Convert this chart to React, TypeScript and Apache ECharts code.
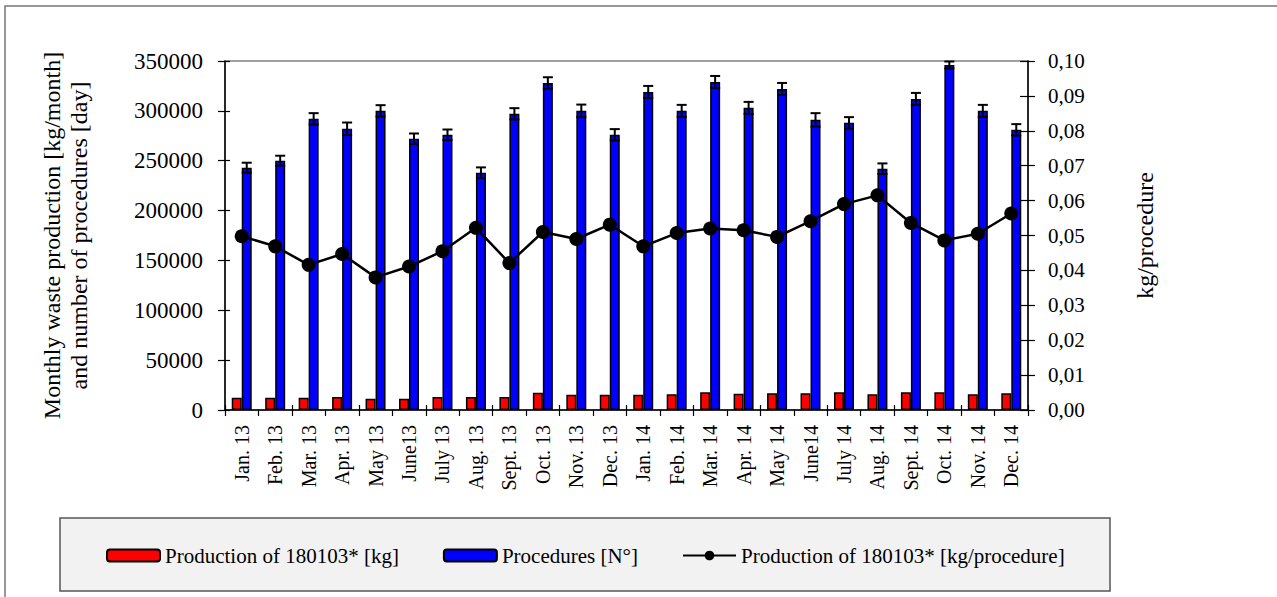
import React, { useEffect, useRef } from "react";
import * as echarts from "echarts";

const categories = [
  "Jan. 13", "Feb. 13", "Mar. 13", "Apr. 13", "May 13", "June13", "July 13", "Aug. 13",
  "Sept. 13", "Oct. 13", "Nov. 13", "Dec. 13", "Jan. 14", "Feb. 14", "Mar. 14", "Apr. 14",
  "May 14", "June14", "July 14", "Aug. 14", "Sept. 14", "Oct. 14", "Nov. 14", "Dec. 14",
];

const productionKg = [
  12400, 12400, 12400, 13100, 11400, 11400, 13100, 13100, 13100, 17400, 15400, 15400,
  15400, 15700, 17800, 16400, 16800, 16800, 17800, 15700, 17800, 17800, 15700, 16800,
];

const procedures = [
  243000, 250000, 292000, 282000, 300000, 272000, 276000, 238000, 297000, 328000, 300000, 276000,
  319000, 300000, 329000, 303000, 322000, 291000, 288000, 242000, 312000, 346000, 300000, 281000,
];

const proceduresError = [
  5000, 5000, 5700, 6300, 5700, 5300, 5300, 5300, 5700, 5700, 6300, 5700,
  6000, 6000, 6000, 6000, 6000, 6700, 5700, 5300, 6000, 3500, 6000, 5700,
];

const kgPerProcedure = [
  0.0498, 0.0469, 0.0416, 0.0447, 0.038, 0.0411, 0.0455, 0.0522, 0.0421, 0.051, 0.049, 0.0531,
  0.0469, 0.0507, 0.052, 0.0515, 0.0496, 0.0541, 0.059, 0.0615, 0.0536, 0.0486, 0.0505, 0.0563,
];

const leftTicks = { min: 0, max: 350000, interval: 50000 };
const rightTicks = { min: 0, max: 0.1, interval: 0.01 };

const FONT = "Liberation Serif";

export default function App() {
  const ref = useRef<HTMLDivElement>(null);

  useEffect(() => {
    document.body.style.margin = "0";
    if (!ref.current) return;
    const chart = echarts.init(ref.current, null, { renderer: "svg" });

    const errData = procedures.map((v, i) => [i, v, proceduresError[i]]);

    const option: any = {
      animation: false,
      backgroundColor: "#ffffff",
      textStyle: { fontFamily: FONT, color: "#000" },
      graphic: [
        {
          type: "rect",
          z: -10,
          shape: { x: 5, y: 6, width: 1400, height: 800 },
          style: { fill: "none", stroke: "#777777", lineWidth: 1.5 },
        },
        {
          type: "rect",
          z: -5,
          shape: { x: 60, y: 518, width: 1050, height: 73 },
          style: { fill: "#f2f2f2", stroke: "#555555", lineWidth: 1.5 },
        },
      ],
      grid: {
        left: 225,
        right: 249,
        top: 61,
        bottom: 187,
        show: true,
        borderColor: "#808080",
        borderWidth: 1.5,
        backgroundColor: "transparent",
      },
      legend: {
        z: 20,
        left: 101,
        top: 540,
        itemWidth: 53,
        itemHeight: 12,
        itemGap: 44,
        textStyle: { fontFamily: FONT, fontSize: 21, color: "#000" },
        data: [
          "Production of 180103* [kg]",
          "Procedures [N°]",
          "Production of 180103* [kg/procedure]",
        ],
      },
      xAxis: [
        {
          type: "category",
          data: categories,
          boundaryGap: true,
          axisLine: { lineStyle: { color: "#000", width: 1.5 } },
          axisTick: { show: true, length: 6, lineStyle: { color: "#000", width: 1.2 } },
          axisLabel: {
            rotate: 90,
            interval: 0,
            margin: 15,
            fontFamily: FONT,
            fontSize: 20,
            color: "#000",
          },
        },
        {
          type: "category",
          data: categories,
          boundaryGap: true,
          position: "bottom",
          axisLine: { show: false },
          axisTick: { show: true, inside: true, length: 5, lineStyle: { color: "#000", width: 1.2 } },
          axisLabel: { show: false },
        },
      ],
      yAxis: [
        {
          type: "value",
          position: "left",
          ...leftTicks,
          name: "Monthly waste production [kg/month]\nand number of procedures [day]",
          nameLocation: "middle",
          nameGap: 133,
          nameTextStyle: { fontFamily: FONT, fontSize: 24, color: "#000", lineHeight: 27 },
          splitLine: { show: false },
          axisLine: { show: true, lineStyle: { color: "#000", width: 1.5 } },
          axisTick: { show: true, length: 7, lineStyle: { color: "#000", width: 1.2 } },
          axisLabel: {
            margin: 22,
            fontFamily: FONT,
            fontSize: 23,
            color: "#000",
            formatter: (v: number) => String(v),
          },
        },
        {
          type: "value",
          position: "right",
          ...rightTicks,
          name: "kg/procedure",
          nameLocation: "middle",
          nameGap: 105,
          nameTextStyle: { fontFamily: FONT, fontSize: 24, color: "#000" },
          splitLine: { show: false },
          axisLine: { show: true, lineStyle: { color: "#000", width: 1.5 } },
          axisTick: { show: true, length: 7, lineStyle: { color: "#000", width: 1.2 } },
          axisLabel: {
            margin: 20,
            fontFamily: FONT,
            fontSize: 21,
            color: "#000",
            formatter: (v: number) => v.toFixed(2).replace(".", ","),
          },
        },
        {
          type: "value",
          position: "left",
          ...leftTicks,
          splitLine: { show: false },
          axisLine: { show: false },
          axisTick: { show: true, inside: true, length: 5, lineStyle: { color: "#000", width: 1.2 } },
          axisLabel: { show: false },
        },
        {
          type: "value",
          position: "right",
          ...rightTicks,
          splitLine: { show: false },
          axisLine: { show: false },
          axisTick: { show: true, inside: true, length: 8, lineStyle: { color: "#000", width: 1.2 } },
          axisLabel: { show: false },
        },
      ],
      series: [
        {
          name: "Production of 180103* [kg]",
          type: "bar",
          xAxisIndex: 0,
          yAxisIndex: 0,
          data: productionKg,
          barWidth: 10,
          barGap: "0%",
          itemStyle: { color: "#ff0000", borderColor: "#000", borderWidth: 1.5 },
          z: 2,
        },
        {
          name: "Procedures [N°]",
          type: "bar",
          xAxisIndex: 0,
          yAxisIndex: 0,
          data: procedures,
          barWidth: 10,
          barGap: "0%",
          itemStyle: { color: "#0000ff", borderColor: "#000", borderWidth: 1.5 },
          z: 2,
        },
        {
          name: "errors",
          type: "custom",
          xAxisIndex: 0,
          yAxisIndex: 0,
          data: errData,
          encode: { x: 0, y: 1 },
          z: 3,
          renderItem: (params: any, api: any) => {
            const i = api.value(0);
            const v = api.value(1);
            const e = api.value(2);
            const top = api.coord([i, v + e]);
            const bot = api.coord([i, v - e]);
            const x = top[0] + 5;
            const hw = 5;
            const st = { stroke: "#000", lineWidth: 2 };
            return {
              type: "group",
              children: [
                { type: "line", shape: { x1: x, y1: top[1], x2: x, y2: bot[1] }, style: st },
                { type: "line", shape: { x1: x - hw, y1: top[1], x2: x + hw, y2: top[1] }, style: st },
                { type: "line", shape: { x1: x - hw, y1: bot[1], x2: x + hw, y2: bot[1] }, style: st },
              ],
            };
          },
        },
        {
          name: "Production of 180103* [kg/procedure]",
          type: "line",
          xAxisIndex: 0,
          yAxisIndex: 1,
          data: kgPerProcedure,
          symbol: "circle",
          symbolSize: 14,
          lineStyle: { color: "#000", width: 2.5 },
          itemStyle: { color: "#000" },
          z: 5,
        },
      ],
    };

    chart.setOption(option);
    return () => {
      chart.dispose();
    };
  }, []);

  return <div ref={ref} style={{ width: 1277, height: 597 }} />;
}
